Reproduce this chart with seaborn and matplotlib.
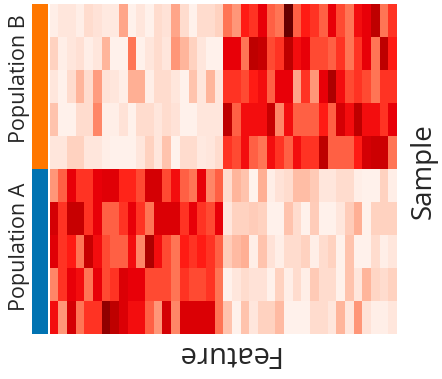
import numpy as np
import pandas as pd
import matplotlib
matplotlib.use("Agg")
import matplotlib.pyplot as plt
from matplotlib.colors import LinearSegmentedColormap, ListedColormap
import seaborn as sns

# Expression values (0-10) per sample row, 40 features each
pop_b_rows = [
    [0.5, 1, 1, 0.5, 1.5, 1.2, 0.8, 0.8, 3.5, 0.3, 1, 0.3, 1.5, 1.2, 3.5, 1.5, 0.3, 1.5, 1.5, 2,
     5, 4, 7, 6.5, 8, 5.5, 5, 10, 5.5, 7, 6.5, 5.5, 8, 6, 5, 7.5, 8, 9, 5, 6.5],
    [2, 0.5, 1, 1.3, 0.5, 1, 3, 0.3, 0.3, 5, 0.3, 1, 1.5, 1, 4, 3, 2, 1, 0.3, 0.3,
     8, 8, 5, 9, 8.8, 6, 6.5, 9, 7.5, 8, 6, 6, 5.5, 6.5, 5, 6.5, 8, 5, 9, 7],
    [1, 0.3, 1.5, 3, 1.5, 3.8, 1.2, 1, 0.5, 3.2, 3.2, 0.5, 1.5, 1.5, 1, 0.3, 2.5, 1, 3, 1,
     6.5, 6.5, 6, 7, 7.5, 5.5, 8, 8, 3.5, 6.5, 4, 8, 9.2, 7.5, 6, 6.5, 6, 5, 6.5, 6.5],
    [2.5, 0.3, 0.3, 1.5, 1.5, 4.5, 0.5, 0.5, 1.2, 0.3, 1.5, 1.5, 1, 1.5, 1.2, 0.3, 0.3, 1, 1, 1,
     9, 5.5, 7.5, 7.5, 7.5, 8.8, 4.5, 7.5, 5.5, 5.5, 5.5, 7, 5.5, 8.5, 7.5, 9, 7.5, 7.5, 6.5, 8],
    [1, 1, 2, 2, 1, 1, 0.5, 0.3, 0.3, 0.3, 1, 2, 1, 2.5, 0.2, 1.5, 1.5, 0.8, 1, 1.5,
     6.5, 6, 7.5, 5.5, 5, 7.5, 6.5, 5.5, 7.5, 6.5, 6.5, 9, 5.5, 5.5, 5.5, 7, 8.5, 8.7, 8.7, 5],
]
pop_a_rows = [
    [4, 5.5, 8, 6.5, 6.5, 8, 8.2, 8.2, 6.8, 6.8, 6, 8.5, 8.5, 6, 7.5, 5.5, 5, 8, 4.5, 5.5,
     1.5, 3, 2.5, 0.2, 3.2, 0.5, 1.2, 1.5, 2.7, 2.7, 2.3, 1, 1, 1.5, 1.5, 0.5, 0.3, 0.3, 2, 0.5],
    [8.5, 6.5, 8.8, 8.8, 6.5, 8, 5.5, 5.5, 6.5, 8, 6.5, 5, 8.3, 8.3, 8.3, 6.5, 8, 6.5, 6, 8,
     1, 2, 2, 2.2, 2, 0.3, 0.3, 2.5, 1.5, 0.3, 2.2, 0.3, 0.3, 1, 2.2, 3.2, 0.3, 2, 2, 2],
    [8.2, 6.5, 7, 5, 8.8, 7.5, 6, 5.5, 5.5, 7.5, 4.5, 9.2, 7.5, 6, 5, 7, 6.5, 7, 6.5, 5.5,
     2.2, 2.8, 3.2, 0.5, 2.5, 1.2, 0.5, 1.5, 1.5, 2, 0.5, 1.5, 2, 0.3, 2.5, 0.3, 0.3, 1.5, 0.5, 1],
    [4.5, 6.5, 8, 7.5, 5, 8, 6, 6.5, 8.3, 8, 8, 6, 6, 6, 5, 6.5, 6, 6, 6.5, 5,
     0.3, 1, 1.5, 1.2, 1.2, 0.3, 2, 0.5, 1.5, 0.5, 2.3, 1.5, 1.5, 0.3, 2.5, 1, 3, 1.8, 1.5, 2],
    [7.5, 4, 8.5, 5, 6.5, 6.5, 9.5, 9, 8.3, 7.5, 7.5, 5.5, 4, 8.5, 4.5, 8.3, 8.3, 8.3, 8.3, 5,
     2.5, 0.3, 2.5, 1, 2, 2, 2.8, 0.3, 0.3, 0.3, 1.5, 1.5, 1, 3, 1, 4, 1.2, 0.5, 0.5, 1],
]
group_labels = ["Population B", "Population A"]
group_colors = ["#ff7700", "#0173b2"]

sns.set_style("white")
plt.rcParams['font.family'] = ['Open Sans', 'DejaVu Sans']

data = pd.DataFrame(pop_b_rows + pop_a_rows)
groups = np.array([[0]] * len(pop_b_rows) + [[1]] * len(pop_a_rows))

cmap = LinearSegmentedColormap.from_list("redscale", [
    (0.0, "#fff5f0"), (0.1, "#ffe6dc"), (0.2, "#ffd2c0"), (0.3, "#ffb49a"),
    (0.4, "#ff9678"), (0.5, "#ff7656"), (0.6, "#ff4a32"), (0.7, "#ff1c14"),
    (0.8, "#e80008"), (0.9, "#c00000"), (1.0, "#680000")])

fig = plt.figure(figsize=(4.42, 3.79), dpi=100)
W, H = 442, 379
ax = fig.add_axes([49.5 / W, 1 - 334 / H, 347.5 / W, 330 / H])
sns.heatmap(data, ax=ax, cmap=cmap, vmin=0, vmax=10, cbar=False,
            xticklabels=False, yticklabels=False)

cax = fig.add_axes([31.5 / W, 1 - 334 / H, 16.5 / W, 330 / H])
sns.heatmap(groups, ax=cax, cmap=ListedColormap(group_colors), vmin=-0.5, vmax=1.5,
            cbar=False, xticklabels=False, yticklabels=False)

fig.text(19.5 / W, 1 - 79 / H, group_labels[0], rotation=90, ha="center", va="center", fontsize=15.5)
fig.text(19.5 / W, 1 - 247 / H, group_labels[1], rotation=90, ha="center", va="center", fontsize=15.5)
fig.text(424 / W, 1 - 171 / H, "Sample", rotation=90, ha="center", va="center", fontsize=20)
fig.text(227 / W, 1 - 354 / H, "Feature", rotation=180, ha="center", va="center", fontsize=21)

fig.savefig("out.png", dpi=100)
